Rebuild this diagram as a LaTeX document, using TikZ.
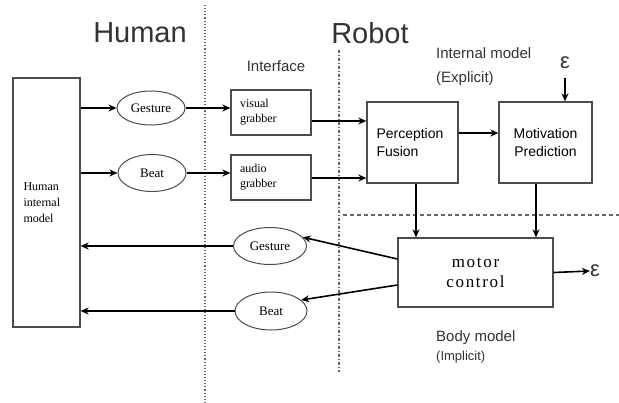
\documentclass[tikz,border=0pt]{standalone}
\usepackage{fontspec}
\setmainfont{Liberation Sans}
\newfontfamily\tmsfont{Liberation Serif}
\usetikzlibrary{shapes.geometric,arrows.meta}
\tikzset{
    box/.style={draw=black!70,line width=1.3pt,rectangle,inner sep=0pt},
    oval/.style={draw=black!70,line width=1pt,ellipse,inner sep=0pt,font=\tmsfont\fontsize{13}{15}\selectfont},
    arr/.style={line width=1.6pt,-{Stealth[length=8pt,width=7pt]}},
    lbl/.style={text=black!80,inner sep=0pt}
}
\begin{document}
\begin{tikzpicture}[x=1pt,y=-1pt]
    \useasboundingbox (0,0) rectangle (619,402);

    % headings
    \node[lbl,font=\fontsize{29}{32}\selectfont] (human) at (140,33) {Human};
    \node[lbl,font=\fontsize{29}{32}\selectfont] (robot) at (370,33) {Robot};
    \node[lbl,font=\fontsize{15}{18}\selectfont] (iface) at (276,66) {Interface};
    \node[lbl,anchor=west,align=left,font=\fontsize{15}{24}\selectfont] (intm) at (436,67) {Internal model\\(Explicit)};
    \node[lbl,anchor=west,align=left,font=\fontsize{15}{19}\selectfont] (bodym) at (436,347) {Body model\\{\fontsize{13}{15}\selectfont(Implicit)}};

    % separators
    \begin{scope}[every path/.style={black!60,line width=1.1pt}]
        \draw[dotted] (205,5) -- (205,402);
        \draw[dash dot,dash pattern=on 3pt off 2pt on 1pt off 2pt] (339,50) -- (339,372);
        \draw[dashed,dash pattern=on 4pt off 3pt] (343,215) -- (619,215);
    \end{scope}

    % human side
    \node[box,minimum width=67,minimum height=249,text width=46,align=left,
        font=\tmsfont\fontsize{12}{16}\selectfont] (hbox) at (46.5,202.5) {Human\\internal\\model};
    \node[oval,minimum width=68,minimum height=34] (gestin) at (151,108) {Gesture};
    \node[oval,minimum width=68,minimum height=37] (beatin) at (152,173) {Beat};
    \node[oval,minimum width=73,minimum height=37] (gestout) at (270,246) {Gesture};
    \node[oval,minimum width=72,minimum height=38] (beatout) at (271,311) {Beat};

    % interface
    \node[box,minimum width=80,minimum height=45,text width=62,align=left,
        font=\tmsfont\fontsize{12}{15}\selectfont] (visgrab) at (271,112.5) {visual\\grabber};
    \node[box,minimum width=80,minimum height=45,text width=62,align=left,
        font=\tmsfont\fontsize{12}{15}\selectfont] (audgrab) at (271,177.5) {audio\\grabber};

    % robot internal model
    \node[box,minimum width=91,minimum height=81,text width=72,align=left,
        font=\fontsize{14}{18}\selectfont] (percfus) at (412.5,142.5) {Perception\\Fusion};
    \node[box,minimum width=93,minimum height=81,align=center,
        font=\fontsize{14}{18}\selectfont] (motpred) at (545.5,142.5) {Motivation\\Prediction};
    \node[lbl,font=\fontsize{22}{24}\selectfont] (epstop) at (565,63) {ε};

    % body model
    \node[box,minimum width=155,minimum height=69,align=center,
        font=\tmsfont\addfontfeature{LetterSpace=10}\fontsize{17}{20}\selectfont] (motctl) at (475.5,272.5) {motor\\control};
    \node[lbl,font=\fontsize{22}{24}\selectfont] (epsright) at (595,271) {ε};

    % inputs
    \draw[arr] (hbox.east |- gestin.west) -- (gestin.west);
    \draw[arr] (hbox.east |- beatin.west) -- (beatin.west);
    \draw[arr] (gestin.east) -- (gestin.east -| visgrab.west);
    \draw[arr] (beatin.east) -- (beatin.east -| audgrab.west);
    \draw[arr] ([yshift=-8.5pt]visgrab.east) -- ([yshift=-8.5pt]visgrab.east -| percfus.west);
    \draw[arr,line width=1.8pt] ([yshift=-0.5pt]audgrab.east) -- ([yshift=-0.5pt]audgrab.east -| percfus.west);
    \draw[arr] ([yshift=9.5pt]percfus.east) -- ([yshift=9.5pt]percfus.east -| motpred.west);
    \draw[arr] ([yshift=-9pt]epstop.south) -- (epstop.south |- motpred.north);

    % down to motor control
    \draw[arr] ([xshift=3.5pt]percfus.south) -- ([xshift=3.5pt]percfus.south |- motctl.north);
    \draw[arr] ([xshift=-9.5pt]motpred.south) -- ([xshift=-9.5pt]motpred.south |- motctl.north);
    \draw[arr] (motctl.east) -- (epsright.west);

    % outputs
    \draw[arr] ([yshift=13.5pt]motctl.west) -- (gestout.15);
    \draw[arr] ([yshift=-12.5pt]motctl.west) -- (beatout.20);
    \draw[arr] (gestout.west) -- (gestout.west -| hbox.east);
    \draw[arr] (beatout.west) -- (beatout.west -| hbox.east);
\end{tikzpicture}
\end{document}
